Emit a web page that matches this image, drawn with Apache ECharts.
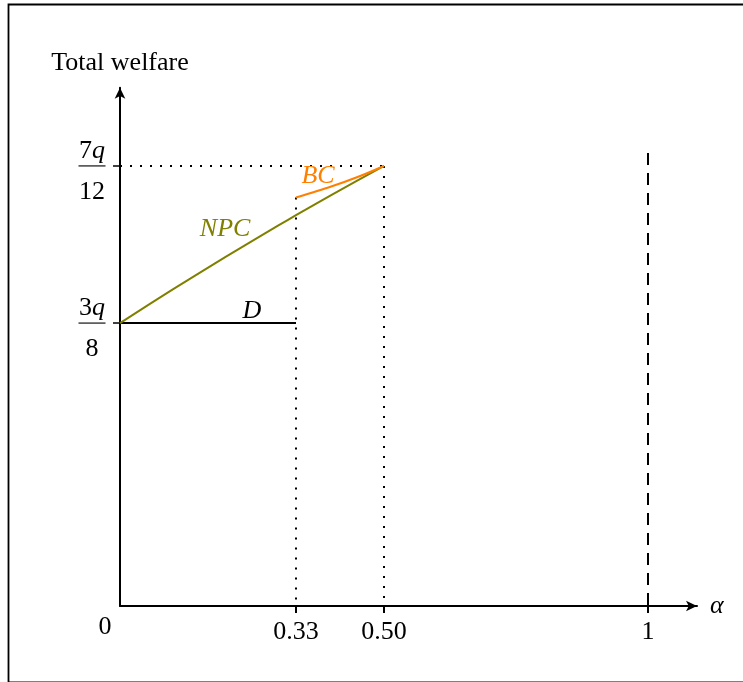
<!DOCTYPE html>
<html>
<head>
<meta charset="utf-8">
<script src="https://cdn.jsdelivr.net/npm/echarts@6/dist/echarts.min.js"></script>
<style>
html,body{margin:0;padding:0;background:#fff;}
#c{width:743px;height:682px;}
</style>
</head>
<body>
<div id="c"></div>
<script>
// ---- data ----
const npcX = [0, 0.1, 0.2, 0.3, 1/3, 0.4, 0.5];
const npcY = [0.375, 0.4196, 0.4628, 0.5044, 0.518, 0.5446, 0.5833];
const bcX = [1/3, 0.4, 0.45, 0.5];
const bcY = [0.5414, 0.556, 0.5686, 0.5833];
const dX = [0, 1/3];
const dY = [0.375, 0.375];
const xTickValues = [1/3, 0.5, 1];
const xTickLabels = ['0.33', '0.50', '1'];
const yTickValues = [3/8, 7/12];
const yTickNum = ['3', '7'];
const yTickDen = ['8', '12'];
const dashedX = 1;
const dashedTop = 0.6004;

const FONT = 'Liberation Serif';
const FS = 26;
const pairs = (xs, ys) => xs.map((x, i) => [x, ys[i]]);

const chart = echarts.init(document.getElementById('c'), null, {renderer: 'canvas'});

const guideStyle = {color: '#000', width: 2, type: [2, 8]};

const option = {
  backgroundColor: '#fff',
  animation: false,
  grid: {left: 120, top: 87.7, width: 577, height: 518.3, containLabel: false},
  xAxis: {
    type: 'value', min: 0, max: 1.0928,
    name: 'α', nameLocation: 'end', nameGap: 13,
    nameTextStyle: {fontFamily: FONT, fontSize: FS, fontStyle: 'italic', color: '#000', verticalAlign: 'middle'},
    axisLine: {show: true, symbol: ['none', 'arrow'], symbolSize: [8, 11], lineStyle: {color: '#000', width: 2}},
    axisTick: {show: true, customValues: xTickValues, length: 7, inside: false, lineStyle: {color: '#000', width: 2}},
    axisLabel: {
      show: true, customValues: [0].concat(xTickValues), margin: 13,
      fontFamily: FONT, fontSize: FS, color: '#000',
      formatter: function (v) {
        if (v === 0) return '{z|0}';
        const i = xTickValues.findIndex(t => Math.abs(t - v) < 1e-6);
        return i >= 0 ? xTickLabels[i] : '';
      },
      rich: {z: {fontFamily: FONT, fontSize: FS, color: '#000', lineHeight: 16, padding: [0, 30, 0, 0]}}
    },
    splitLine: {show: false}
  },
  yAxis: {
    type: 'value', min: 0, max: 0.687,
    name: 'Total welfare', nameLocation: 'end', nameGap: 12,
    nameTextStyle: {fontFamily: FONT, fontSize: FS, color: '#000', align: 'center'},
    axisLine: {show: true, symbol: ['none', 'arrow'], symbolSize: [8, 11], lineStyle: {color: '#000', width: 2}},
    axisTick: {show: true, customValues: yTickValues, length: 7, lineStyle: {color: '#000', width: 1.5}},
    axisLabel: {
      show: true, customValues: yTickValues, margin: 28, align: 'center',
      padding: [22, 0, 0, 0],
      fontFamily: FONT, fontSize: FS, color: '#000',
      formatter: function (v) {
        const i = yTickValues.findIndex(t => Math.abs(t - v) < 1e-6);
        if (i < 0) return '';
        return '{n|' + yTickNum[i] + '}{q|q}\n{b| }\n{d|' + yTickDen[i] + '}';
      },
      rich: {
        n: {fontFamily: FONT, fontSize: FS, color: '#000', lineHeight: 22, align: 'center'},
        q: {fontFamily: FONT, fontSize: FS, fontStyle: 'italic', color: '#000', lineHeight: 22, align: 'center'},
        b: {width: 27, height: 1.4, lineHeight: 8, fontSize: 2, backgroundColor: '#333', align: 'center'},
        d: {fontFamily: FONT, fontSize: FS, color: '#000', lineHeight: 44, align: 'center'}
      }
    },
    splitLine: {show: false}
  },
  graphic: [{
    type: 'rect', left: 6, top: 2, z: 100,
    shape: {x: 0, y: 0, width: 745, height: 678},
    style: {fill: 'none', stroke: '#000', lineWidth: 1.8}
  }],
  series: [
    {type: 'line', name: 'guideH', data: [[0, 7/12], [0.5, 7/12]], showSymbol: false, symbol: 'none', lineStyle: guideStyle, z: 1, silent: true},
    {type: 'line', name: 'guide33', data: [[1/3, bcY[0]], [1/3, 0]], showSymbol: false, symbol: 'none', lineStyle: guideStyle, z: 1, silent: true},
    {type: 'line', name: 'guide50', data: [[0.5, 7/12], [0.5, 0]], showSymbol: false, symbol: 'none', lineStyle: guideStyle, z: 1, silent: true},
    {type: 'line', name: 'dashed', data: [[dashedX, dashedTop], [dashedX, 0]], showSymbol: false, symbol: 'none', lineStyle: {color: '#000', width: 2, type: [12, 8]}, z: 1, silent: true},
    {type: 'line', name: 'D', data: pairs(dX, dY), showSymbol: false, symbol: 'none', lineStyle: {color: '#000', width: 2}, z: 3},
    {type: 'line', name: 'NPC', data: pairs(npcX, npcY), smooth: 0.3, showSymbol: false, symbol: 'none', lineStyle: {color: '#808000', width: 2}, z: 3},
    {type: 'line', name: 'BC', data: pairs(bcX, bcY), smooth: 0.3, showSymbol: false, symbol: 'none', lineStyle: {color: '#ff8000', width: 2.2}, z: 3},
    {type: 'scatter', name: 'labels', symbolSize: 0, silent: true, z: 4,
      itemStyle: {opacity: 1},
      data: [
        {value: [0.199, 0.4997], label: {formatter: 'NPC', color: '#808000'}},
        {value: [0.375, 0.570], label: {formatter: 'BC', color: '#ff8000'}},
        {value: [0.25, 0.391], label: {formatter: 'D', color: '#000'}}
      ],
      label: {show: true, position: 'inside', opacity: 1, fontFamily: FONT, fontSize: FS, fontStyle: 'italic', align: 'center', verticalAlign: 'middle'}
    }
  ]
};
chart.setOption(option);
</script>
</body>
</html>
